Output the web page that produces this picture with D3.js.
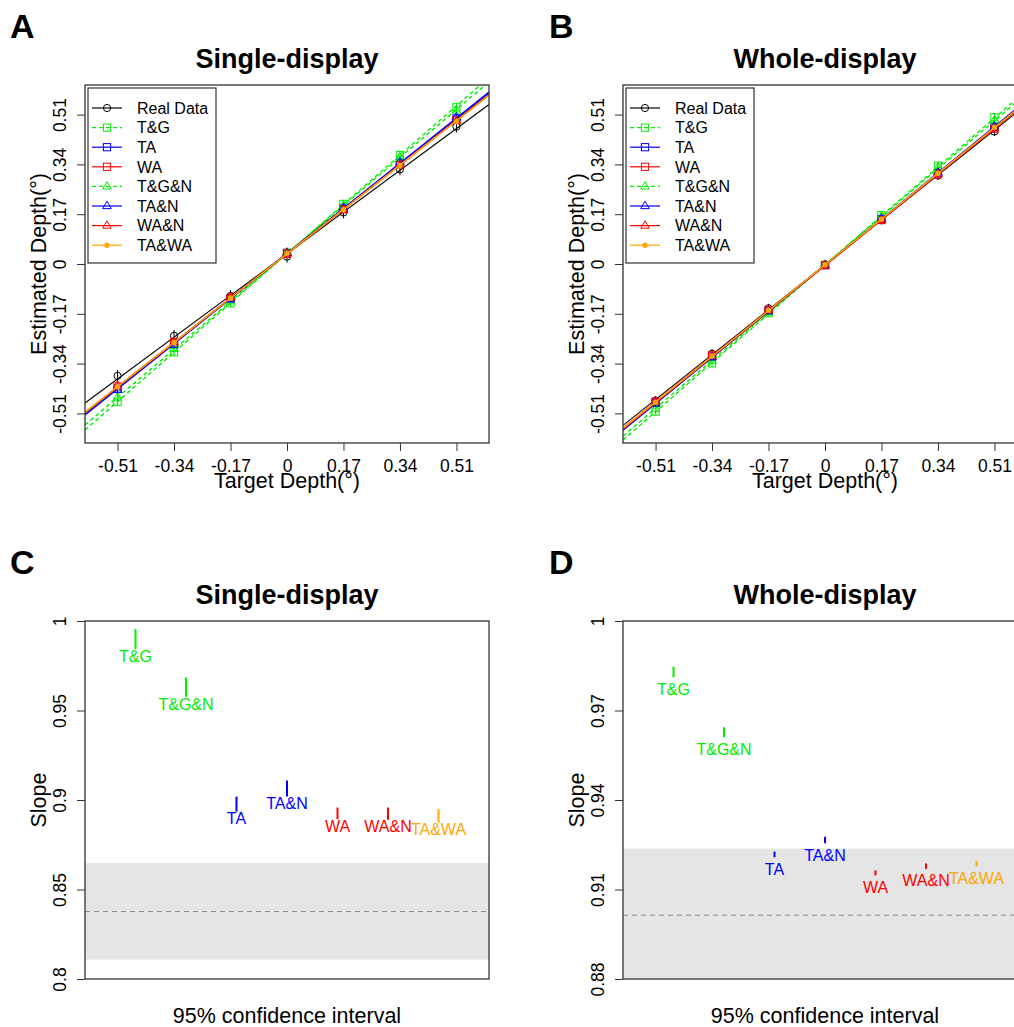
<!DOCTYPE html>
<html>
<head>
<meta charset="utf-8">
<script src="https://cdn.jsdelivr.net/npm/d3@7"></script>
<style>
  body { margin: 0; background: #fff; }
  text { font-family: "Liberation Sans", Arial, sans-serif; }
</style>
</head>
<body>
<svg id="fig" width="1014" height="1027"></svg>
<script>
// ---- data ----
const targets = [-0.51, -0.34, -0.17, 0, 0.17, 0.34, 0.51];
const depthTicks = [-0.51, -0.34, -0.17, 0, 0.17, 0.34, 0.51];

const seriesNames  = ["Real Data", "T&G", "TA", "WA", "T&G&N", "TA&N", "WA&N", "TA&WA"];
const seriesColors = ["#000000", "#00ee00", "#0000ff", "#ff0000", "#00ee00", "#0000ff", "#ff0000", "#ffa500"];
const seriesShapes = ["circle", "square", "square", "square", "triangle", "triangle", "triangle", "dot"];
const seriesDashed = [false, true, false, false, true, false, false, false];

// mean estimated depth per target, one row per series (same order as seriesNames)
const singleEstimates = [
  [-0.382, -0.245, -0.109, 0.025, 0.176, 0.323, 0.469],
  [-0.470, -0.301, -0.134, 0.039, 0.205, 0.372, 0.535],
  [-0.425, -0.272, -0.118, 0.036, 0.190, 0.344, 0.497],
  [-0.418, -0.268, -0.116, 0.035, 0.187, 0.340, 0.492],
  [-0.455, -0.290, -0.127, 0.040, 0.200, 0.364, 0.524],
  [-0.430, -0.276, -0.120, 0.038, 0.192, 0.348, 0.501],
  [-0.415, -0.266, -0.113, 0.036, 0.186, 0.338, 0.489],
  [-0.419, -0.268, -0.116, 0.036, 0.185, 0.336, 0.487]
];
const wholeEstimates = [
  [-0.466, -0.306, -0.151, -0.001, 0.150, 0.302, 0.452],
  [-0.504, -0.339, -0.168, -0.003, 0.167, 0.336, 0.501],
  [-0.474, -0.316, -0.160, -0.004, 0.153, 0.310, 0.468],
  [-0.470, -0.312, -0.158, -0.004, 0.150, 0.306, 0.462],
  [-0.494, -0.330, -0.165, -0.002, 0.163, 0.329, 0.491],
  [-0.476, -0.318, -0.161, -0.004, 0.155, 0.312, 0.470],
  [-0.470, -0.313, -0.158, -0.005, 0.150, 0.308, 0.463],
  [-0.472, -0.314, -0.158, -0.003, 0.153, 0.310, 0.466]
];
const singleErr = [0.020, 0.015, 0.012, 0.012, 0.015, 0.012, 0.012, 0.010];
const wholeErr  = [0.015, 0.012, 0.010, 0.010, 0.012, 0.010, 0.010, 0.008];
const singleIntercepts = [0.035, 0.035, 0.036, 0.035, 0.036, 0.036, 0.035, 0.035];
const wholeIntercepts  = [-0.003, -0.003, -0.004, -0.004, -0.002, -0.004, -0.005, -0.003];

// slope 95% CI per model
const slopeCats   = ["T&G", "T&G&N", "TA", "TA&N", "WA", "WA&N", "TA&WA"];
const slopeColors = ["#00ee00", "#00ee00", "#0000ff", "#0000ff", "#ff0000", "#ff0000", "#ffa500"];
const singleSlopeLow  = [0.9844, 0.9577, 0.8935, 0.9019, 0.8893, 0.8890, 0.8874];
const singleSlopeHigh = [0.9955, 0.9684, 0.9019, 0.9109, 0.8958, 0.8958, 0.8949];
const wholeSlopeLow   = [0.9811, 0.9610, 0.9208, 0.9255, 0.9147, 0.9169, 0.9178];
const wholeSlopeHigh  = [0.9847, 0.9644, 0.9227, 0.9277, 0.9164, 0.9187, 0.9196];
// real data slope: [low, estimate, high]
const singleRealCI = [0.8108, 0.8377, 0.8647];
const wholeRealCI  = [0.8791, 0.9014, 0.9237];
const singleSlopeTicks = [0.8, 0.85, 0.9, 0.95, 1];
const wholeSlopeTicks  = [0.88, 0.91, 0.94, 0.97, 1];

// ---- drawing ----
const svg = d3.select("#fig");
const W = 404, H = 358;
const AXIS = "#333";

function slopeOf(name, realCI, lo, hi) {
  if (name === "Real Data") return realCI[1];
  const i = slopeCats.indexOf(name);
  return (lo[i] + hi[i]) / 2;
}

function marker(sel, shape, color) {
  if (shape === "circle") {
    sel.append("circle").attr("r", 3.6).attr("fill", "none").attr("stroke", color).attr("stroke-width", 1);
  } else if (shape === "square") {
    sel.append("rect").attr("x", -3.6).attr("y", -3.6).attr("width", 7.2).attr("height", 7.2)
      .attr("fill", "none").attr("stroke", color).attr("stroke-width", 1);
  } else if (shape === "triangle") {
    sel.append("path").attr("d", "M0,-4.8L4.3,2.6L-4.3,2.6Z")
      .attr("fill", "none").attr("stroke", color).attr("stroke-width", 1);
  } else {
    sel.append("circle").attr("r", 2.7).attr("fill", color);
  }
}

function frame(g, left, top, title, letter, letterX) {
  svg.append("text").attr("x", letterX).attr("y", top - 47)
    .attr("font-size", 34).attr("font-weight", "bold").text(letter);
  svg.append("text").attr("x", left + W / 2).attr("y", top - 17)
    .attr("text-anchor", "middle").attr("font-size", 27).attr("font-weight", "bold").text(title);
}

function yAxisRotated(g, scale, ticks) {
  const ax = g.append("g").call(d3.axisLeft(scale).tickValues(ticks).tickFormat(d => String(d)).tickSize(8));
  ax.select(".domain").remove();
  ax.selectAll(".tick line").attr("stroke", AXIS);
  ax.selectAll(".tick text")
    .attr("x", 0).attr("y", -19.5).attr("dy", 0)
    .attr("transform", "rotate(-90)")
    .attr("text-anchor", "middle")
    .attr("font-size", 17.5).attr("fill", "#000")
    .style("font-family", "'Liberation Sans', Arial, sans-serif");
}

function depthPanel(left, top, title, letter, letterX, estimates, errs, intercepts, realCI, lo, hi) {
  frame(null, left, top, title, letter, letterX);
  const x = d3.scaleLinear().domain([-0.608, 0.608]).range([left, left + W]);
  const y = d3.scaleLinear().domain([-0.611, 0.611]).range([top + H, top]);
  const clipId = "clip" + letter;
  svg.append("clipPath").attr("id", clipId)
    .append("rect").attr("x", left).attr("y", top).attr("width", W).attr("height", H);
  const plot = svg.append("g").attr("clip-path", "url(#" + clipId + ")");

  seriesNames.forEach((name, s) => {
    const col = seriesColors[s];
    const slope = slopeOf(name, realCI, lo, hi);
    const b = intercepts[s];
    const dom = x.domain();
    plot.append("line")
      .attr("x1", x(dom[0])).attr("y1", y(b + slope * dom[0]))
      .attr("x2", x(dom[1])).attr("y2", y(b + slope * dom[1]))
      .attr("stroke", col).attr("stroke-width", name === "Real Data" ? 1.1 : 1.4)
      .attr("stroke-dasharray", seriesDashed[s] ? "4,3" : null);
    estimates[s].forEach((v, i) => {
      plot.append("line")
        .attr("x1", x(targets[i])).attr("x2", x(targets[i]))
        .attr("y1", y(v - errs[s])).attr("y2", y(v + errs[s]))
        .attr("stroke", col).attr("stroke-width", 1);
      const m = plot.append("g").attr("transform", `translate(${x(targets[i])},${y(v)})`);
      marker(m, seriesShapes[s], col);
    });
  });

  // axes
  const xa = svg.append("g").attr("transform", `translate(0,${top + H})`)
    .call(d3.axisBottom(x).tickValues(depthTicks).tickFormat(d => String(d)).tickSize(8).tickPadding(8.6));
  xa.select(".domain").remove();
  xa.selectAll(".tick line").attr("stroke", AXIS);
  xa.selectAll(".tick text").attr("font-size", 17.5).attr("fill", "#000")
    .style("font-family", "'Liberation Sans', Arial, sans-serif");
  const ya = svg.append("g").attr("transform", `translate(${left},0)`);
  yAxisRotated(ya, y, depthTicks);

  svg.append("rect").attr("x", left).attr("y", top).attr("width", W).attr("height", H)
    .attr("fill", "none").attr("stroke", AXIS).attr("stroke-width", 1.3);

  svg.append("text").attr("x", left + W / 2).attr("y", top + H + 45)
    .attr("text-anchor", "middle").attr("font-size", 21.5).text("Target Depth(°)");
  svg.append("text")
    .attr("transform", `translate(${left - 39.5},${top + H / 2}) rotate(-90)`)
    .attr("text-anchor", "middle").attr("font-size", 21.5).text("Estimated Depth(°)");

  // legend
  const lg = svg.append("g").attr("transform", `translate(${left + 3},${top + 3})`);
  lg.append("rect").attr("width", 128).attr("height", 175)
    .attr("fill", "#fff").attr("stroke", AXIS).attr("stroke-width", 1.2);
  seriesNames.forEach((name, s) => {
    const cy = 20 + s * 19.6;
    lg.append("line").attr("x1", 4).attr("x2", 34).attr("y1", cy).attr("y2", cy)
      .attr("stroke", seriesColors[s]).attr("stroke-width", 1.2)
      .attr("stroke-dasharray", seriesDashed[s] ? "4,3" : null);
    marker(lg.append("g").attr("transform", `translate(19,${cy})`), seriesShapes[s], seriesColors[s]);
    lg.append("text").attr("x", 49).attr("y", cy + 5.8).attr("font-size", 16).text(name);
  });
}

function slopePanel(left, top, title, letter, letterX, lo, hi, realCI, ticks, labelGap) {
  frame(null, left, top, title, letter, letterX);
  const x = d3.scaleLinear().domain([0, 8]).range([left, left + W]);
  const y = d3.scaleLinear().domain([ticks[0], ticks[ticks.length - 1]]).range([top + H, top]);
  const clipId = "clip" + letter;
  svg.append("clipPath").attr("id", clipId)
    .append("rect").attr("x", left).attr("y", top).attr("width", W).attr("height", H);
  const plot = svg.append("g").attr("clip-path", "url(#" + clipId + ")");

  plot.append("rect").attr("x", left).attr("width", W)
    .attr("y", y(realCI[2])).attr("height", y(realCI[0]) - y(realCI[2]))
    .attr("fill", "#e5e5e5");
  plot.append("line").attr("x1", left).attr("x2", left + W)
    .attr("y1", y(realCI[1])).attr("y2", y(realCI[1]))
    .attr("stroke", "#8a8a8a").attr("stroke-width", 1).attr("stroke-dasharray", "5,4");

  slopeCats.forEach((c, i) => {
    const cx = x(i + 1);
    plot.append("line").attr("x1", cx).attr("x2", cx)
      .attr("y1", y(hi[i])).attr("y2", y(lo[i]))
      .attr("stroke", slopeColors[i]).attr("stroke-width", 2);
    plot.append("text").attr("x", cx).attr("y", y(lo[i]) + labelGap)
      .attr("text-anchor", "middle").attr("font-size", 16)
      .attr("fill", slopeColors[i]).text(c);
  });

  const ya = svg.append("g").attr("transform", `translate(${left},0)`);
  yAxisRotated(ya, y, ticks);
  svg.append("rect").attr("x", left).attr("y", top).attr("width", W).attr("height", H)
    .attr("fill", "none").attr("stroke", AXIS).attr("stroke-width", 1.3);

  svg.append("text").attr("x", left + W / 2).attr("y", top + H + 44)
    .attr("text-anchor", "middle").attr("font-size", 21.5).text("95% confidence interval");
  svg.append("text")
    .attr("transform", `translate(${left - 39.5},${top + H / 2}) rotate(-90)`)
    .attr("text-anchor", "middle").attr("font-size", 21.5).text("Slope");
}

depthPanel(85, 85, "Single-display", "A", 10, singleEstimates, singleErr, singleIntercepts,
  singleRealCI, singleSlopeLow, singleSlopeHigh);
depthPanel(623, 85, "Whole-display", "B", 549, wholeEstimates, wholeErr, wholeIntercepts,
  wholeRealCI, wholeSlopeLow, wholeSlopeHigh);
slopePanel(85, 621, "Single-display", "C", 10, singleSlopeLow, singleSlopeHigh, singleRealCI,
  singleSlopeTicks, 12.8);
slopePanel(623, 621, "Whole-display", "D", 549, wholeSlopeLow, wholeSlopeHigh, wholeRealCI,
  wholeSlopeTicks, 17.5);
</script>
</body>
</html>
